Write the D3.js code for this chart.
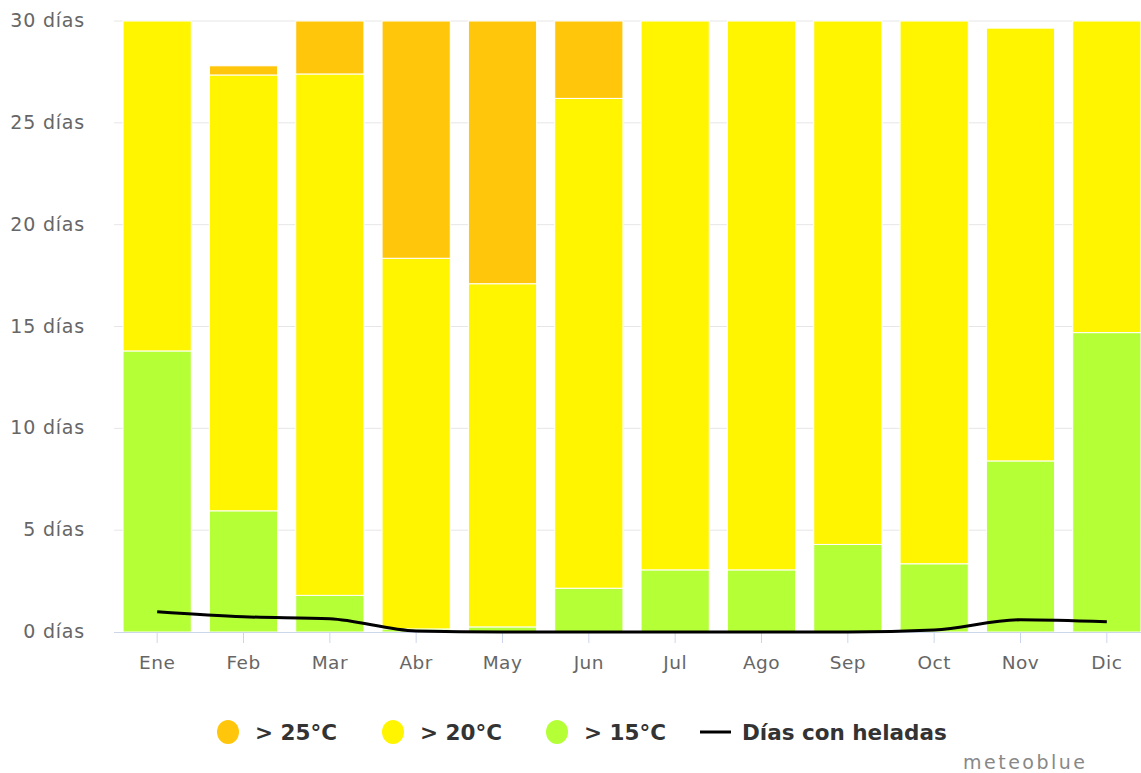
<!DOCTYPE html>
<html><head><meta charset="utf-8">
<script src="https://cdn.jsdelivr.net/npm/d3@7"></script>
<style>body{margin:0;background:#fff}svg{display:block}</style>
</head><body>
<svg id="c" width="1141" height="773"></svg>
<script>
const months = ["Ene","Feb","Mar","Abr","May","Jun","Jul","Ago","Sep","Oct","Nov","Dic"];
const above15 = [13.8, 5.95, 1.8, 0.15, 0.25, 2.15, 3.05, 3.05, 4.3, 3.35, 8.4, 14.7];
const above20 = [16.2, 21.4, 25.6, 18.2, 16.85, 24.05, 26.95, 26.95, 25.7, 26.65, 21.25, 15.3];
const above25 = [0, 0.45, 2.6, 11.65, 12.9, 3.8, 0, 0, 0, 0, 0, 0];
const frost = [1.0, 0.75, 0.65, 0.05, 0, 0, 0, 0, 0, 0.1, 0.6, 0.5];
const yTicks = [0,5,10,15,20,25,30];
const colors = {g:"#b4ff36", y:"#fff500", o:"#ffc60b"};

const svg = d3.select("#c");
const x = d3.scaleBand().domain(months).range([114, 1150]).paddingInner(0.21).paddingOuter(0.105);
const y = d3.scaleLinear().domain([0,30]).range([632, 21]);
const font = "'DejaVu Sans', sans-serif";

// grid
svg.append("g").selectAll("line").data(yTicks.slice(1)).join("line")
  .attr("x1",114).attr("x2",1141).attr("y1",d=>y(d)).attr("y2",d=>y(d))
  .attr("stroke","#e6e6e6").attr("stroke-width",1);

// y labels
svg.append("g").selectAll("text").data(yTicks).join("text")
  .attr("x",85).attr("y",d=>y(d)+6).attr("text-anchor","end")
  .attr("font-family",font).attr("font-size",19).attr("letter-spacing",0.8).attr("fill","#666")
  .text(d=>d+" días");

// stacked bars
const rows = months.map((m,i)=>({m, g:above15[i], y:above20[i], o:above25[i]}));
const stack = d3.stack().keys(["g","y","o"])(rows);
svg.append("g").selectAll("g").data(stack).join("g")
  .attr("fill",d=>colors[d.key])
  .selectAll("rect").data(d=>d.filter(s=>s[1]-s[0]>0)).join("rect")
  .attr("x",d=>x(d.data.m)).attr("width",x.bandwidth())
  .attr("y",d=>y(d[1])).attr("height",d=>y(d[0])-y(d[1]))
  .attr("stroke","#fff").attr("stroke-width",1);

// x axis
svg.append("line").attr("x1",114).attr("x2",1141).attr("y1",632.5).attr("y2",632.5)
  .attr("stroke","#ccd6eb").attr("stroke-width",1);
const xa = svg.append("g").selectAll("g").data(months).join("g")
  .attr("transform",d=>`translate(${x(d)+x.bandwidth()/2},0)`);
xa.append("line").attr("y1",633).attr("y2",643).attr("stroke","#ccd6eb");
xa.append("text").attr("y",669).attr("text-anchor","middle")
  .attr("font-family",font).attr("font-size",18.5).attr("letter-spacing",0.5).attr("fill","#666").text(d=>d);

// frost line
const line = d3.line().x((d,i)=>x(months[i])+x.bandwidth()/2).y(d=>y(d)).curve(d3.curveMonotoneX);
svg.append("path").datum(frost).attr("d",line).attr("fill","none")
  .attr("stroke","#000").attr("stroke-width",3);

// legend
const leg = [
  {t:"> 25°C", c:colors.o, x:228},
  {t:"> 20°C", c:colors.y, x:393},
  {t:"> 15°C", c:colors.g, x:557}
];
const lg = svg.append("g");
leg.forEach(l=>{
  lg.append("ellipse").attr("cx",l.x).attr("cy",732).attr("rx",11).attr("ry",12).attr("fill",l.c);
  lg.append("text").attr("x",l.x+27).attr("y",740).attr("font-family",font).attr("font-weight","bold")
    .attr("font-size",21.5).attr("fill","#333").text(l.t);
});
lg.append("line").attr("x1",700).attr("x2",731).attr("y1",732).attr("y2",732).attr("stroke","#000").attr("stroke-width",3);
lg.append("text").attr("x",742).attr("y",740).attr("font-family",font).attr("font-weight","bold")
  .attr("font-size",21.5).attr("fill","#333").text("Días con heladas");

svg.append("text").attr("x",963).attr("y",769)
  .attr("font-family",font).attr("font-size",19).attr("letter-spacing",2.5).attr("fill","#888").text("meteoblue");
</script>
</body></html>
